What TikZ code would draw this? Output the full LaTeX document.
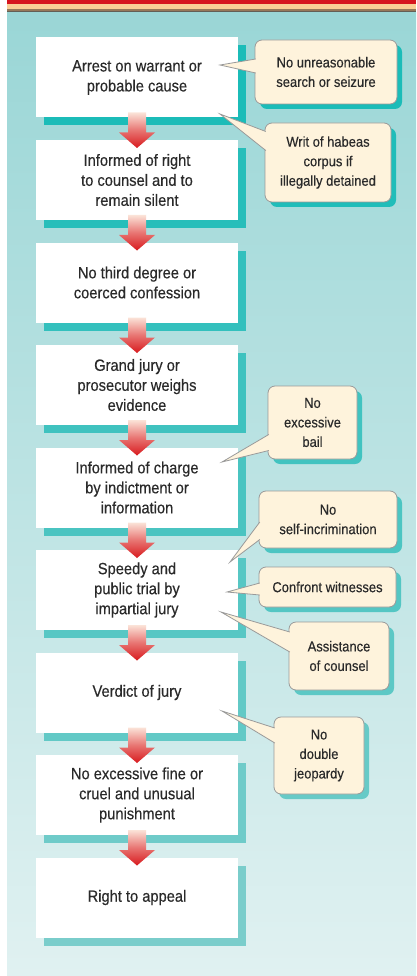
\documentclass[tikz,border=0pt]{standalone}
\usepackage{fontspec}
\setmainfont{Liberation Sans}[FakeStretch=0.9,FakeBold=0.35]
\usetikzlibrary{calc,shadows}

\definecolor{panelTop}{HTML}{9AD6D6}
\definecolor{panelBot}{HTML}{E0F1F1}
\definecolor{shadeTop}{HTML}{1BBCB8}
\definecolor{shadeBot}{HTML}{7ACDCB}
\definecolor{noteFill}{HTML}{FEF3DC}
\definecolor{noteLine}{HTML}{9A9A9A}
\definecolor{arrowTop}{HTML}{FBE3D8}
\definecolor{arrowBot}{HTML}{D81A1E}
\definecolor{inkGray}{HTML}{2A2A2A}

\tikzset{
  stage/.style={fill=white, minimum width=202pt, minimum height=80pt,
    inner sep=0pt, outer sep=0pt, align=center, text=inkGray,
    font=\fontsize{16.3}{20}\selectfont},
  note shade/.code={\colorlet{noteShade}{shadeTop!#1!shadeBot}},
  note/.style={note shade=#1, fill=noteFill, draw=noteLine, line width=0.8pt,
    rounded corners=7pt, inner sep=0pt, outer sep=0pt, align=center,
    text=inkGray, font=\fontsize{14.4}{19.5}\selectfont, note drop},
  note drop/.style={drop shadow={shadow xshift=5pt, shadow yshift=-5pt,
      fill=noteShade, opacity=1}},
  tail/.style={fill=noteFill, draw=noteLine, line width=0.8pt},
  flow/.style={top color=arrowTop, bottom color=arrowBot, middle color=arrowBot!55!arrowTop}
}

\begin{document}
\begin{tikzpicture}[x=1pt,y=1pt]
\useasboundingbox (0,0) rectangle (416,-976);
% panel and top rule
\shade[top color=panelTop, bottom color=panelBot] (7,-12.5) rectangle (416,-975);
\fill[fill={rgb,255:red,214;green,20;blue,30}] (7,0) rectangle (416,-4.5);
\fill[fill={rgb,255:red,250;green,206;blue,150}] (7,-4.5) rectangle (416,-9.5);
\fill[fill={rgb,255:red,150;green,120;blue,90}] (7,-9.5) rectangle (416,-11);
\fill[fill={rgb,255:red,100;green,95;blue,85}] (7,-11) rectangle (416,-12.5);

% stages
\foreach \txt [count=\i] in {{Arrest on warrant or\\probable cause},
    {Informed of right\\to counsel and to\\remain silent},
    {No third degree or\\coerced confession},
    {Grand jury or\\prosecutor weighs\\evidence},
    {Informed of charge\\by indictment or\\information},
    {Speedy and\\public trial by\\impartial jury},
    {Verdict of jury},
    {No excessive fine or\\cruel and unusual\\punishment},
    {Right to appeal}}{
  \pgfmathtruncatemacro\mix{100-12.5*(\i-1)}
  \colorlet{stageShade}{shadeTop!\mix!shadeBot}
  \node[stage, drop shadow={shadow xshift=8pt, shadow yshift=-8pt,
      fill=stageShade, opacity=1}]
    (b\i) at (137,{-77.5-102.5*(\i-1)}) {\txt};
}

% arrows between stages
\foreach \i [evaluate=\i as \j using int(\i+1)] in {1,...,8}
  \shade[flow] ($(b\i.south)+(-9,5)$) -- ($(b\i.south)+(-9,-15)$)
    -- ($(b\i.south)+(-18,-15)$) -- ($(b\j.north)+(0,-8)$)
    -- ($(b\i.south)+(18,-15)$) -- ($(b\i.south)+(9,-15)$)
    -- ($(b\i.south)+(9,5)$) -- cycle;

% tips of the call-outs
\coordinate (t1) at (220,-65);
\coordinate (t2) at (220,-114);
\coordinate (t3) at (222,-462);
\coordinate (t4) at (230,-562);
\coordinate (t5) at (227,-592);
\coordinate (t6) at (221,-612);
\coordinate (t7) at (222,-711);

% call-outs
\node[note=100, minimum width=142pt, minimum height=64pt] (c1) at (326,-72)
  {No unreasonable\\search or seizure};
\filldraw[tail] ($(c1.west)+(0.8,13)$) -- (t1) -- ($(c1.west)+(0.8,-1)$);

\node[note=95, minimum width=126pt, minimum height=79pt] (c2) at (328,-162.5)
  {Writ of habeas\\corpus if\\illegally detained};
\filldraw[tail] ($(c2.west)+(0.8,31)$) -- (t2) -- ($(c2.west)+(0.8,12)$);

\node[note=60, minimum width=89pt, minimum height=73pt] (c3) at (312.5,-422.5)
  {No\\excessive\\bail};
\filldraw[tail] ($(c3.west)+(0.8,-12)$) -- (t3) -- ($(c3.west)+(0.8,-28)$);

\node[note=48, minimum width=138pt, minimum height=57pt] (c4) at (328,-519.5)
  {No\\self-incrimination};
\filldraw[tail] ($(c4.west)+(0.8,-2.5)$) -- (t4) -- ($(c4.west)+(0.8,-20)$);

\node[note=40, minimum width=137pt, minimum height=40pt] (c5) at (327.5,-587)
  {Confront witnesses};
\filldraw[tail] ($(c5.west)+(0.8,4)$) -- (t5) -- ($(c5.west)+(0.8,-8)$);

\node[note=32, minimum width=100pt, minimum height=68pt] (c6) at (339,-656)
  {Assistance\\of counsel};
\filldraw[tail] ($(c6.west)+(0.8,24)$) -- (t6) -- ($(c6.west)+(0.8,4)$);

\node[note=20, minimum width=90pt, minimum height=77pt] (c7) at (319,-755.5)
  {No\\double\\jeopardy};
\filldraw[tail] ($(c7.west)+(0.8,27.5)$) -- (t7) -- ($(c7.west)+(0.8,12.5)$);
\end{tikzpicture}
\end{document}
